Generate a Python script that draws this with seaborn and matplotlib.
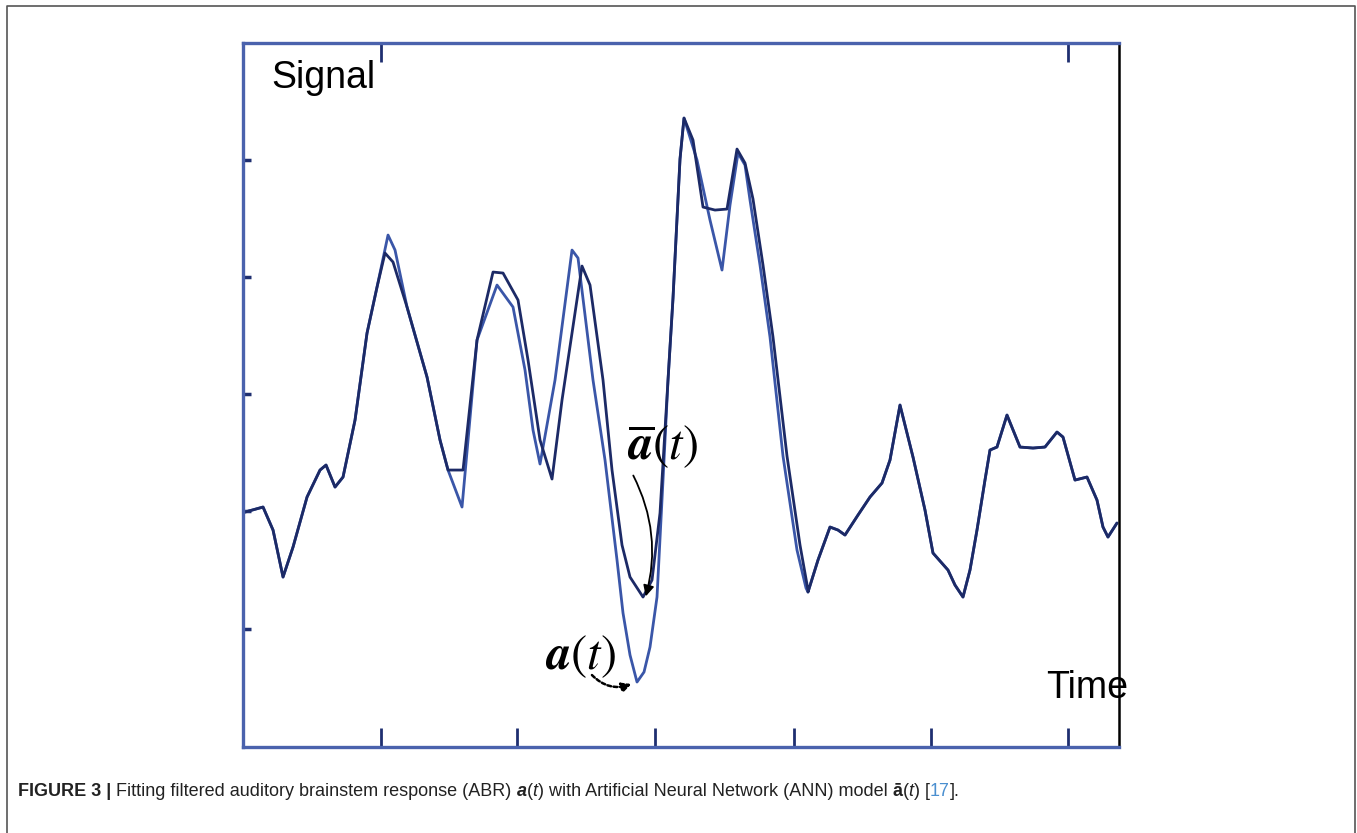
import numpy as np
import pandas as pd
import seaborn as sns
import matplotlib
matplotlib.use("Agg")
import matplotlib.pyplot as plt
from matplotlib.lines import Line2D

# ---------------- data (arbitrary units) ----------------
# common start of both traces
time_start = [2, 20, 30, 40, 50, 64, 77, 83, 92, 100, 112, 124, 134]
sig_start = [-1, 4, -19, -66, -36, 14, 41, 46, 24, 34, 91, 178, 224]

# filtered ABR a(t), middle part
time_a_mid = [145, 152, 164, 184, 197, 205, 219, 234, 254, 270, 282, 290, 297,
              312, 329, 335, 350, 362, 374, 380, 387, 394, 401, 407, 414, 420,
              425, 430, 437, 441, 454, 467, 479, 487, 495, 502, 507, 517, 527,
              540, 554, 563]
sig_a_mid = [276, 261, 204, 134, 71, 41, 4, 171, 226, 204, 141, 81, 47,
             131, 261, 253, 131, 51, -49, -102, -144, -171, -161, -136, -86, 31,
             131, 213, 352, 393, 351, 291, 241, 306, 358, 346, 311, 246, 174,
             55, -39, -77]

# ANN model ā(t), middle part
time_b_mid = [142, 150, 164, 184, 197, 205, 220, 234, 250, 260, 275, 285, 297,
              309, 319, 339, 347, 360, 369, 379, 387, 400, 409, 417, 425, 430,
              437, 441, 450, 460, 472, 484, 494, 502, 510, 520, 530, 544, 557,
              565]
sig_b_mid = [258, 249, 204, 134, 71, 41, 41, 171, 239, 238, 211, 151, 71,
             32, 111, 245, 226, 131, 41, -34, -66, -86, -69, -2, 131, 213,
             352, 393, 371, 304, 301, 302, 362, 348, 312, 246, 174, 55, -34,
             -79]

# common end of both traces
time_end = [565, 575, 587, 595, 602, 615, 627, 639, 647, 657, 670, 682, 690,
            705, 712, 720, 727, 734, 742, 747, 754, 764, 777, 790, 802, 814,
            820, 832, 844, 854, 860, 865, 874]
sig_end = [-81, -49, -16, -19, -24, -4, 14, 28, 51, 106, 54, 1, -42,
           -59, -74, -86, -59, -19, 31, 61, 64, 96, 64, 63, 64, 79,
           74, 31, 34, 11, -16, -26, -12]

series_names = ["a(t)", "ā(t)"]
x_ticks = [138, 274, 412, 551, 688, 825]
y_ticks = [-118, 0, 117, 234, 351]
top_ticks = [138, 825]

time_a = time_start + time_a_mid + time_end
sig_a = sig_start + sig_a_mid + sig_end
time_b = time_start + time_b_mid + time_end
sig_b = sig_start + sig_b_mid + sig_end

df = pd.DataFrame({
    "time": time_a + time_b,
    "signal": sig_a + sig_b,
    "series": [series_names[0]] * len(time_a) + [series_names[1]] * len(time_b),
})

# ---------------- style ----------------
sns.set_theme(style="white")
plt.rcParams["font.family"] = ["Liberation Sans", "DejaVu Sans"]

BLUE = "#4a62ad"
fig = plt.figure(figsize=(13.57, 8.33), dpi=100)
ax = fig.add_axes([0.1791, 0.1032, 0.6455, 0.8451])

sns.lineplot(data=df, x="time", y="signal", hue="series",
             palette={series_names[0]: "#3a56a8", series_names[1]: "#1c2a66"},
             sort=False, estimator=None, linewidth=2.0, legend=False, ax=ax)

ax.set_xlim(0, 876)
ax.set_ylim(-236, 468)
ax.set_xlabel("")
ax.set_ylabel("")
ax.set_xticks(x_ticks)
ax.set_yticks(y_ticks)
ax.set_xticklabels([])
ax.set_yticklabels([])
ax.tick_params(axis="x", direction="in", length=14, width=2, color="#1f2f70",
               bottom=True, top=False)
ax.tick_params(axis="y", direction="in", length=6, width=2.5, color="#1f2f70",
               left=True, right=False)
for side in ["left", "top", "bottom"]:
    ax.spines[side].set_color(BLUE)
    ax.spines[side].set_linewidth(2.4)
ax.spines["right"].set_color("black")
ax.spines["right"].set_linewidth(1.8)

sec = ax.secondary_xaxis("top")
sec.set_xticks(top_ticks)
sec.set_xticklabels([])
sec.tick_params(axis="x", direction="in", length=14, width=2, color="#1f2f70")
for s in sec.spines.values():
    s.set_visible(False)

# labels inside the axes
ax.text(0.032, 0.936, "Signal", transform=ax.transAxes, fontsize=27,
        va="baseline", ha="left", color="black")
ax.text(0.9167, 0.0696, "Time", transform=ax.transAxes, fontsize=27,
        va="baseline", ha="left", color="black", clip_on=False)

# curve labels with arrows
ia = int(np.argmin(sig_a_mid))
ib = int(np.argmin(sig_b_mid))
ax.text(419, 52, r"$\overline{\mathbfit{a}}(\mathit{t})$", fontsize=35,
        ha="center", va="baseline", math_fontfamily="stix", color="black")
ax.text(337, -158, r"$\mathbfit{a}(\mathit{t})$", fontsize=35,
        ha="center", va="baseline", math_fontfamily="stix", color="black")
ax.annotate("", xy=(time_b_mid[ib] + 2, sig_b_mid[ib] - 2), xytext=(389, 38),
            arrowprops=dict(arrowstyle="-|>", color="black", lw=1.3,
                            mutation_scale=16,
                            connectionstyle="arc3,rad=-0.2"))
ax.annotate("", xy=(time_a_mid[ia] - 3, sig_a_mid[ia] - 1), xytext=(347, -162),
            arrowprops=dict(arrowstyle="-|>", color="black", lw=1.8,
                            linestyle=(0, (1.5, 1)), mutation_scale=14,
                            connectionstyle="arc3,rad=0.35"))

# outer frame of the figure panel
W, H = 1357, 833
frame = Line2D([7 / W, 7 / W, 1355 / W, 1355 / W],
               [0, 1 - 6 / H, 1 - 6 / H, 0],
               transform=fig.transFigure, color="#555555", lw=1.2)
fig.add_artist(frame)

# caption built from pieces
pieces = [
    ("FIGURE 3 | ", "bold", "normal", "#222222"),
    ("Fitting filtered auditory brainstem response (ABR) ", "normal", "normal", "#222222"),
    ("a", "bold", "italic", "#222222"),
    ("(", "normal", "normal", "#222222"),
    ("t", "normal", "italic", "#222222"),
    (") with Artificial Neural Network (ANN) model ", "normal", "normal", "#222222"),
    ("ā", "bold", "normal", "#222222"),
    ("(", "normal", "normal", "#222222"),
    ("t", "normal", "italic", "#222222"),
    (") [", "normal", "normal", "#222222"),
    ("17", "normal", "normal", "#4a8fd0"),
    ("].", "normal", "normal", "#222222"),
]
renderer = fig.canvas.get_renderer()
cap_size = 13.0
xpix = 18.0
ybase = 1 - 796 / H


def text_width(s, weight, style):
    t1 = fig.text(0, 0, "|" + s + "|", fontsize=cap_size, fontweight=weight,
                  fontstyle=style)
    t2 = fig.text(0, 0, "||", fontsize=cap_size, fontweight=weight,
                  fontstyle=style)
    w = t1.get_window_extent(renderer).width - t2.get_window_extent(renderer).width
    t1.remove()
    t2.remove()
    return w


for s, wgt, sty, col in pieces:
    fig.text(xpix / W, ybase, s, fontsize=cap_size, fontweight=wgt,
             fontstyle=sty, color=col, va="baseline", ha="left")
    xpix += text_width(s, wgt, sty)

fig.savefig("out.png", dpi=100)
